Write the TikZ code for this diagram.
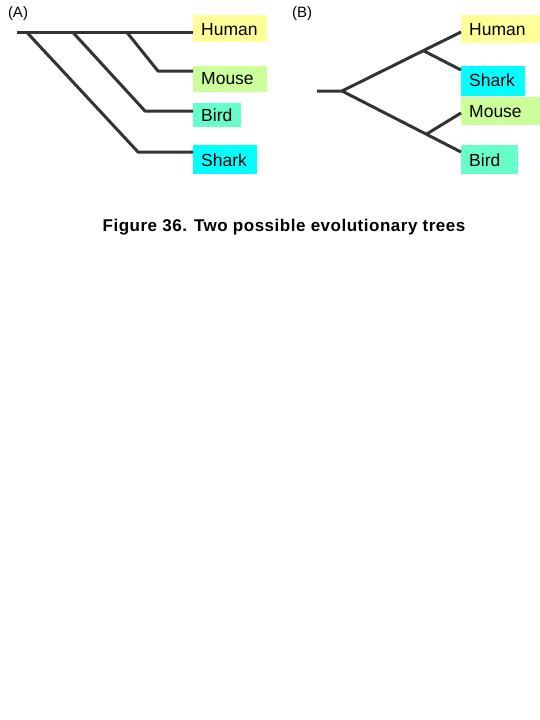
\documentclass[tikz,border=0pt]{standalone}
\usepackage{fontspec}
\setmainfont{Liberation Sans}
\usepackage{xcolor}
\usetikzlibrary{positioning}
\definecolor{branchgray}{RGB}{51,51,51}
\definecolor{humanyel}{RGB}{255,255,153}
\definecolor{mousegrn}{RGB}{204,255,153}
\definecolor{birdaqua}{RGB}{102,255,204}
\definecolor{sharkcyan}{RGB}{0,255,255}
\tikzset{%
taxon/.style={anchor=north west, inner xsep=8pt, inner ysep=0pt, text height=12.6pt, text depth=0pt, align=left, font=\fontsize{17.5}{20}\selectfont},
branch/.style={draw=branchgray, line width=3pt, line join=round},
panel/.style={font=\fontsize{15}{17}\selectfont}
}

\begin{document}
\begin{tikzpicture}[x=1pt, y=-1pt]
		\useasboundingbox (0,0) rectangle (540,720);
		\node[panel] (labA) at (18,14) {(A)};
		\node[panel] (labB) at (302,14) {(B)};

		\node[taxon, fill=humanyel, text width=58pt, minimum height=27pt] (hmA) at (193,15) {Human};
		\node[taxon, fill=mousegrn, text width=58pt, minimum height=26pt] (msA) [below=23pt of hmA.south west, anchor=north west] {Mouse};
		\node[taxon, fill=birdaqua, text width=32pt, minimum height=24pt] (bdA) [below=11pt of msA.south west, anchor=north west] {Bird};
		\node[taxon, fill=sharkcyan, text width=48pt, minimum height=29pt] (skA) [below=18pt of bdA.south west, anchor=north west] {Shark};

		\node[taxon, fill=humanyel, text width=63pt, minimum height=28pt] (hmB) at (461,15) {Human};
		\node[taxon, fill=sharkcyan, text width=48pt, minimum height=30pt] (skB) [below=22pt of hmB.south west, anchor=north west] {Shark};
		\node[taxon, fill=mousegrn, text width=63pt, minimum height=28pt] (msB) [below=1pt of skB.south west, anchor=north west] {Mouse};
		\node[taxon, fill=birdaqua, text width=41pt, minimum height=29pt] (bdB) [below=20pt of msB.south west, anchor=north west] {Bird};

		\coordinate (rtA) at (17,32.5);
		\coordinate (jsA) at (27,32.5);
		\coordinate (jbA) at (73,32.5);
		\coordinate (jmA) at (127,32.5);
		\coordinate (kmA) at (158,71);
		\coordinate (kbA) at (145,111);
		\coordinate (ksA) at (138,152);
		\draw[branch] (rtA) -- (hmA.west |- rtA);
		\draw[branch] (jmA) -- (kmA) -- (msA.west |- kmA);
		\draw[branch] (jbA) -- (kbA) -- (bdA.west |- kbA);
		\draw[branch] (jsA) -- (ksA) -- (skA.west |- ksA);

		\coordinate (rtB) at (317,91);
		\coordinate (jB) at (342,91);
		\coordinate (uB) at (424,51);
		\coordinate (lB) at (427,133.8);
		\draw[branch] (rtB) -- (jB) -- (hmB.west |- 0,32);
		\draw[branch] (jB) -- (bdB.west |- 0,152);
		\draw[branch] (uB) -- (skB.west |- 0,70);
		\draw[branch] (lB) -- (msB.west |- 0,113);

		\node[font=\fontsize{17}{19}\selectfont\bfseries\addfontfeatures{LetterSpace=3}] (cap) at (284,227) {Figure 36. Two possible evolutionary trees};
	\end{tikzpicture}
\end{document}
